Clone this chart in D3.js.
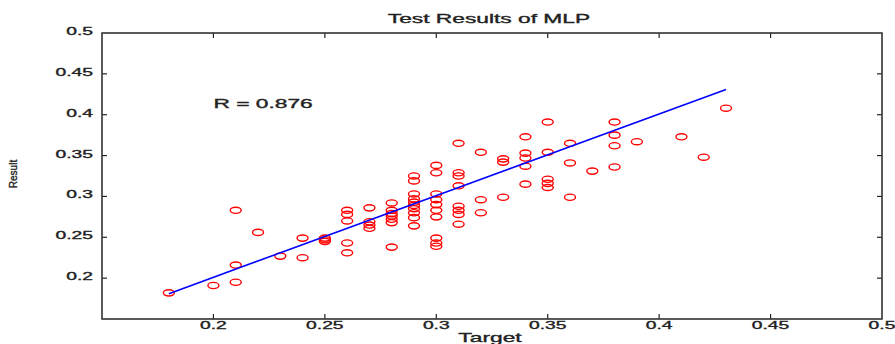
<!DOCTYPE html>
<html>
<head>
<meta charset="UTF-8">
<script src="https://d3js.org/d3.v7.min.js"></script>
<style>
  body { margin: 0; background: #fff; }
  text { font-family: "Liberation Sans", Arial, sans-serif; fill: #222; stroke: #222; stroke-width: 0.35px; }
</style>
</head>
<body>
<script>
    // data
    var target = [0.18, 0.20, 0.21, 0.21, 0.21, 0.22, 0.23, 0.24, 0.24, 0.25, 0.25, 0.25,
        0.26, 0.26, 0.26, 0.26, 0.26, 0.27, 0.27, 0.27, 0.27,
        0.28, 0.28, 0.28, 0.28, 0.28, 0.28, 0.28,
        0.29, 0.29, 0.29, 0.29, 0.29, 0.29, 0.29, 0.29, 0.29, 0.29,
        0.30, 0.30, 0.30, 0.30, 0.30, 0.30, 0.30, 0.30, 0.30, 0.30,
        0.31, 0.31, 0.31, 0.31, 0.31, 0.31, 0.31, 0.31,
        0.32, 0.32, 0.32, 0.33, 0.33, 0.33,
        0.34, 0.34, 0.34, 0.34, 0.34, 0.35, 0.35, 0.35, 0.35, 0.35,
        0.36, 0.36, 0.36, 0.37, 0.38, 0.38, 0.38, 0.38, 0.39, 0.41, 0.42, 0.43];
    var result = [0.182, 0.191, 0.195, 0.216, 0.283, 0.256, 0.227, 0.249, 0.225, 0.245, 0.247, 0.249,
        0.283, 0.278, 0.270, 0.243, 0.231, 0.286, 0.269, 0.265, 0.261,
        0.292, 0.283, 0.279, 0.276, 0.272, 0.268, 0.238,
        0.325, 0.319, 0.303, 0.297, 0.293, 0.289, 0.285, 0.280, 0.274, 0.264,
        0.338, 0.329, 0.303, 0.296, 0.290, 0.283, 0.275, 0.249, 0.243, 0.239,
        0.365, 0.329, 0.325, 0.313, 0.288, 0.283, 0.278, 0.266,
        0.354, 0.296, 0.280, 0.346, 0.342, 0.299,
        0.373, 0.353, 0.347, 0.337, 0.315, 0.391, 0.354, 0.321, 0.316, 0.311,
        0.365, 0.341, 0.299, 0.331, 0.391, 0.375, 0.362, 0.336, 0.367, 0.373, 0.348, 0.408];
    // fitted line end points
    var fitX = [0.18, 0.43];
    var fitY = [0.181, 0.431];
    var xTicks = [0.2, 0.25, 0.3, 0.35, 0.4, 0.45, 0.5];
    var yTicks = [0.2, 0.25, 0.3, 0.35, 0.4, 0.45, 0.5];
    var innerTicks = [0.2, 0.25, 0.3, 0.35, 0.4, 0.45];

    var W = 895, H = 344;
    var margin = { top: 33, right: 13, bottom: 25, left: 102 };
    var width = W - margin.left - margin.right,
        height = H - margin.top - margin.bottom;
    var stretch = 1.75; // the picture's text is wide

    var svg = d3.select("body").append("svg")
        .attr("width", W).attr("height", H);
    var g = svg.append("g")
        .attr("transform", "translate(" + margin.left + "," + margin.top + ")");

    var x = d3.scaleLinear().domain([0.15, 0.5]).range([0, width]);
    var y = d3.scaleLinear().domain([0.15, 0.5]).range([height, 0]);

    function widen(sel, k) {
        sel.each(function () {
            var len = this.getComputedTextLength();
            d3.select(this).attr("textLength", len * k).attr("lengthAdjust", "spacingAndGlyphs");
        });
    }

    // points
    g.selectAll(".pt")
        .data(target.map(function (t, i) { return [t, result[i]]; }))
        .enter().append("ellipse")
        .attr("cx", function (d) { return x(d[0]); })
        .attr("cy", function (d) { return y(d[1]); })
        .attr("rx", 5.5).attr("ry", 3.1)
        .style("fill", "none")
        .style("stroke", "#ff0000")
        .style("stroke-width", 1.4);

    // fit line
    g.append("path")
        .attr("d", d3.line()(fitX.map(function (v, i) { return [x(v), y(fitY[i])]; })))
        .style("fill", "none")
        .style("stroke", "#0000ff")
        .style("stroke-width", 1.6);

    // inward ticks on all four sides
    var tk = 5;
    var tickG = g.append("g").style("stroke", "#222").style("stroke-width", 1.2);
    innerTicks.forEach(function (v) {
        tickG.append("line").attr("x1", x(v)).attr("x2", x(v)).attr("y1", height).attr("y2", height - tk);
        tickG.append("line").attr("x1", x(v)).attr("x2", x(v)).attr("y1", 0).attr("y2", tk);
        tickG.append("line").attr("y1", y(v)).attr("y2", y(v)).attr("x1", 0).attr("x2", tk);
        tickG.append("line").attr("y1", y(v)).attr("y2", y(v)).attr("x1", width).attr("x2", width - tk);
    });

    // frame
    g.append("rect")
        .attr("width", width).attr("height", height)
        .style("fill", "none").style("stroke", "#333").style("stroke-width", 1.6);

    // tick labels
    g.selectAll(".xl").data(xTicks).enter().append("text")
        .attr("x", function (d) { return x(d); })
        .attr("y", height + 10)
        .style("text-anchor", "middle")
        .style("font-size", "11px")
        .text(function (d) { return d; })
        .call(widen, stretch);

    g.selectAll(".yl").data(yTicks).enter().append("text")
        .attr("x", -9)
        .attr("y", function (d) { return y(d) + 2; })
        .style("text-anchor", "end")
        .style("font-size", "11px")
        .text(function (d) { return d; })
        .call(widen, stretch);

    // titles
    svg.append("text")
        .attr("x", 489).attr("y", 23)
        .style("text-anchor", "middle").style("font-size", "13px")
        .text("Test Results of MLP")
        .call(widen, stretch);

    svg.append("text")
        .attr("x", 490).attr("y", 342)
        .style("text-anchor", "middle").style("font-size", "13px")
        .text("Target")
        .call(widen, stretch);

    svg.append("text")
        .attr("transform", "translate(17,174) rotate(-90)")
        .style("text-anchor", "middle").style("font-size", "10px")
        .text("Result");

    g.append("text")
        .attr("x", x(0.2)).attr("y", y(0.4) - 7)
        .style("font-size", "13px")
        .text("R = 0.876")
        .call(widen, stretch);
</script>
</body>
</html>
